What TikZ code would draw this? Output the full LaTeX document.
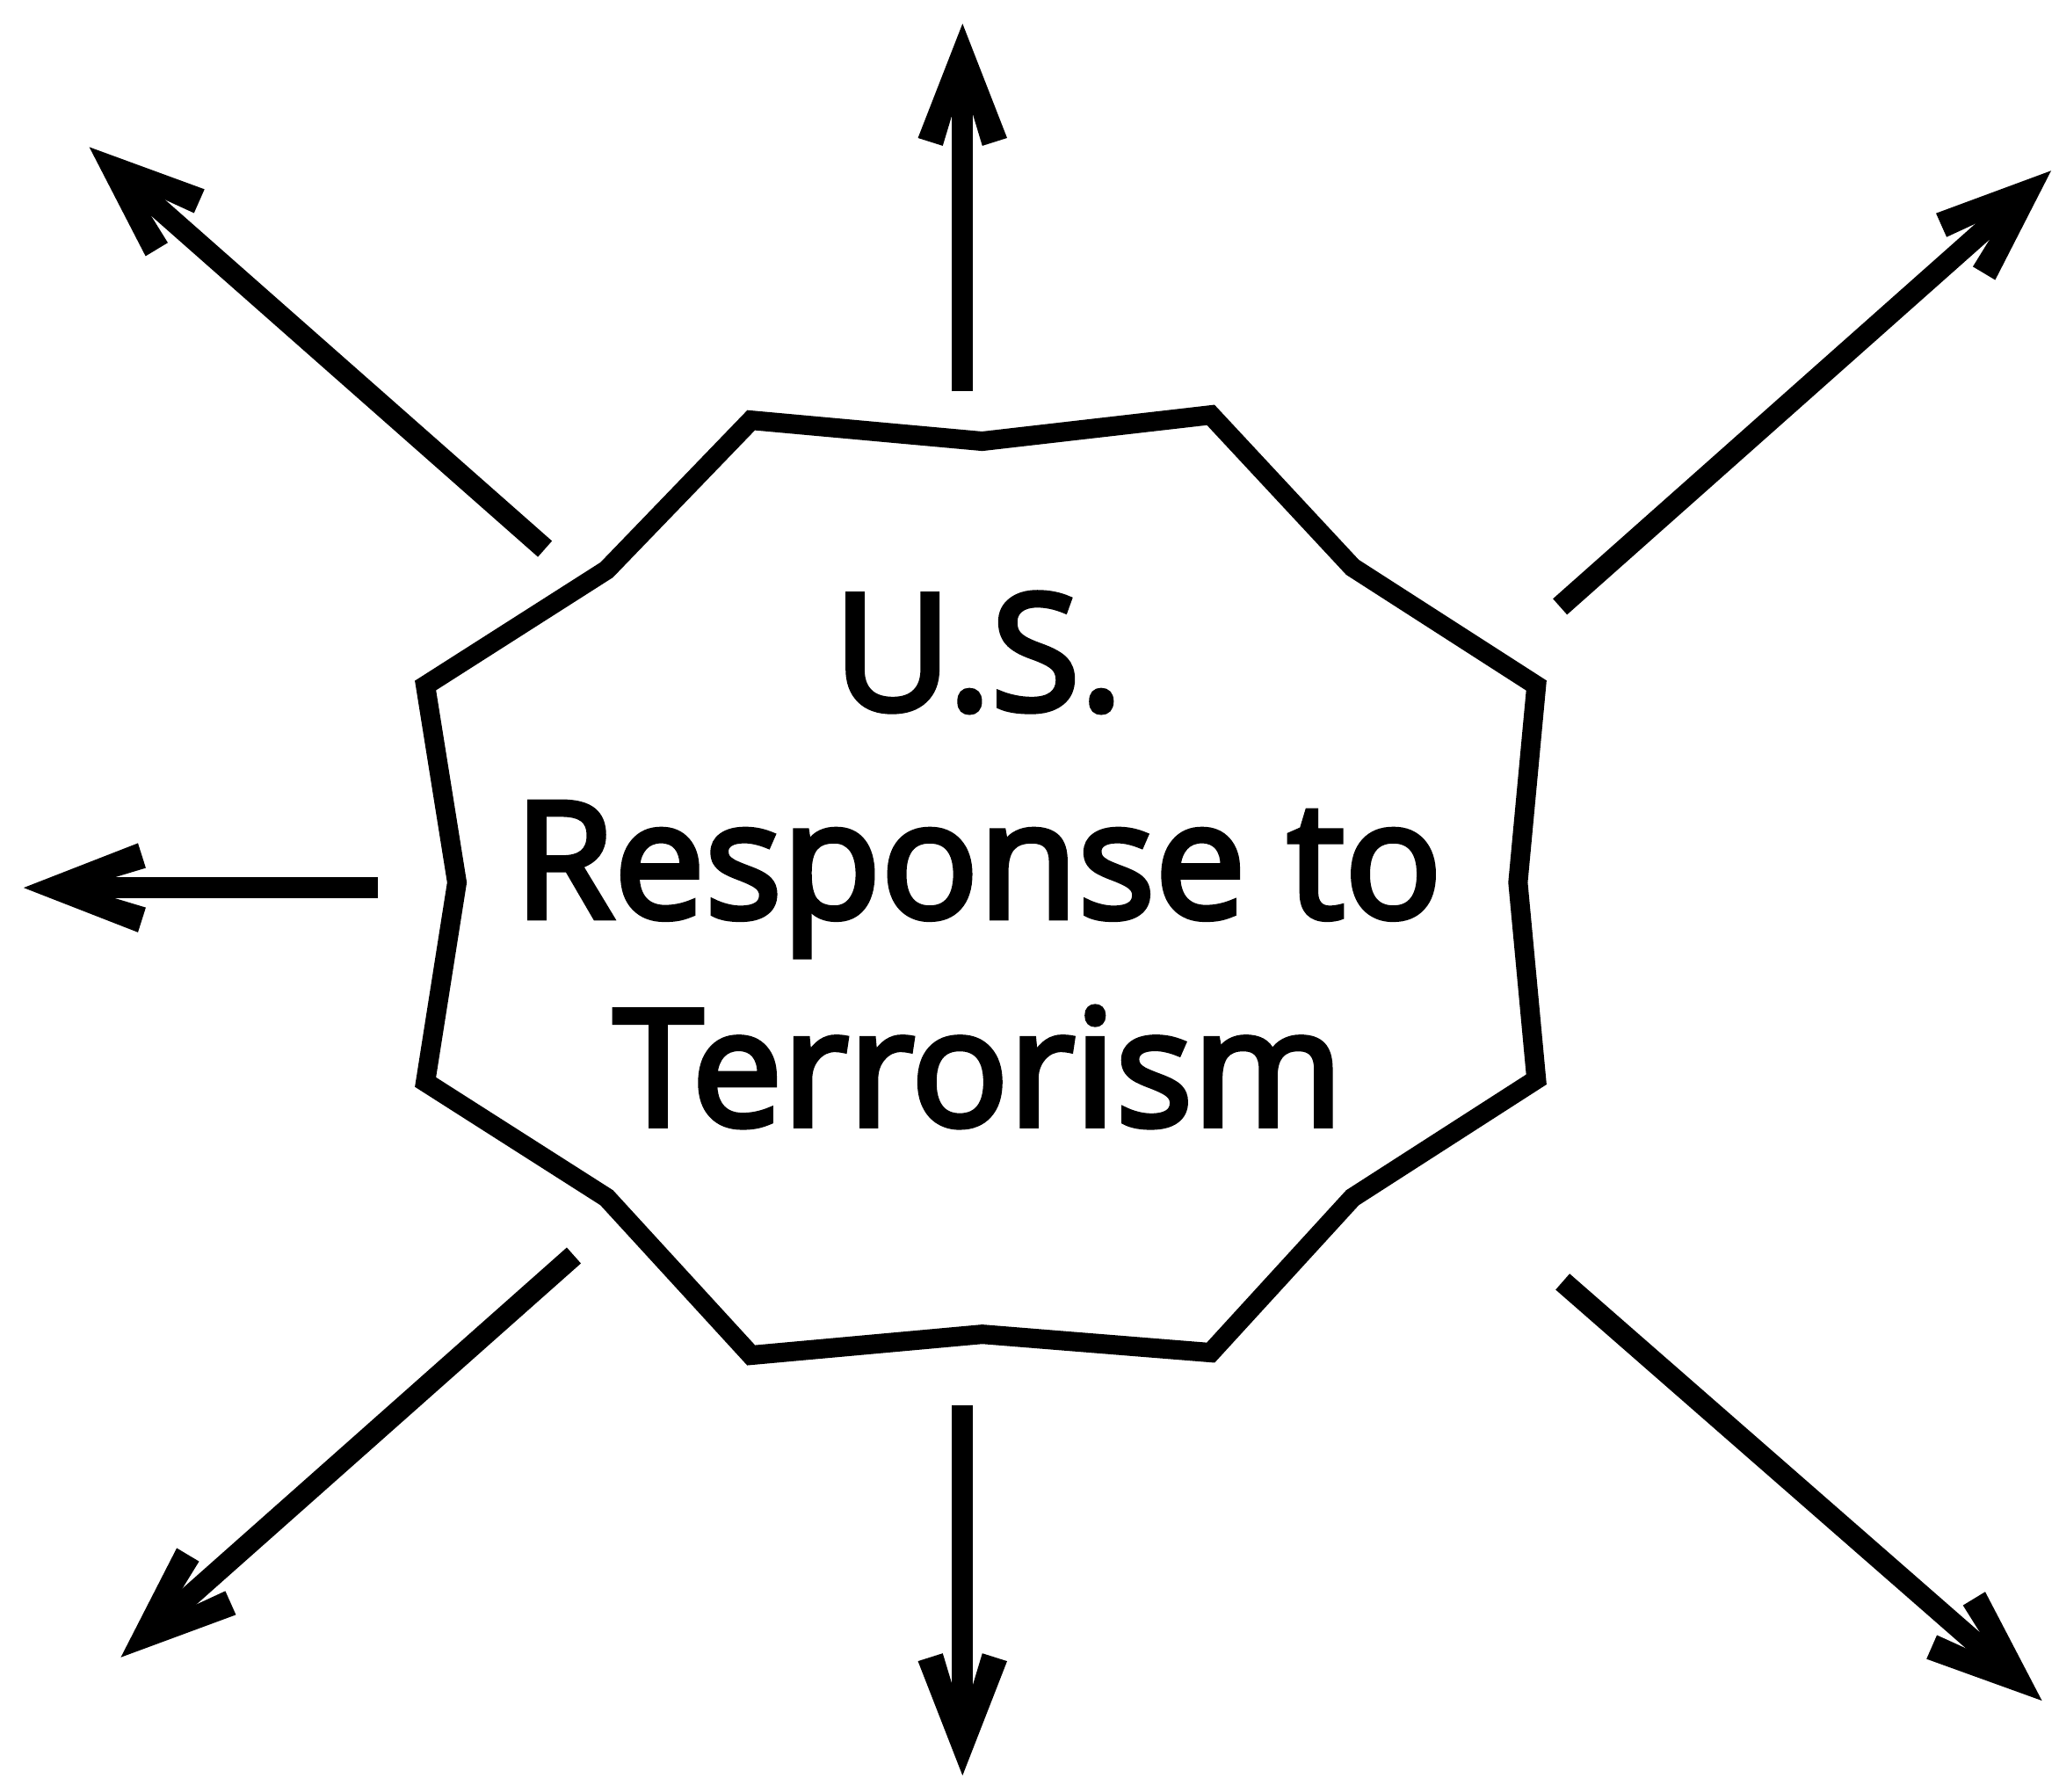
\documentclass[tikz,border=0pt]{standalone}
\usepackage{fontspec}
\newfontfamily\lblfont{Open Sans}[FakeBold=3.5]
\usetikzlibrary{calc}
\tikzset{
  stem/.style={line width=4.6pt, shorten >=0.55cm},
  badge/.style={line width=4.2pt, line join=miter},
  lbl/.style={align=center, font=\lblfont\fontsize{35pt}{45pt}\selectfont, inner sep=0pt}
}
% filled barbed arrowhead at #2, pointing away from #1
\newcommand\barbhead[2]{%
  \fill (#2) -- ($(#2)!0.934cm!21.3:(#1)$) -- ($(#2)!0.942cm!9.2:(#1)$)
    -- ($(#2)!0.664cm!6.0:(#1)$) -- ($(#2)!0.664cm!-6.0:(#1)$)
    -- ($(#2)!0.942cm!-9.2:(#1)$) -- ($(#2)!0.934cm!-21.3:(#1)$) -- cycle;}
\begin{document}
\begin{tikzpicture}[x=0.01cm,y=-0.01cm]
\useasboundingbox (0,0) rectangle (1568,1364);
% badge outline
\draw[badge] (572,320) -- (748,336) -- (922,316) -- (1030,432) -- (1170,522)
  -- (1156,672) -- (1170,822) -- (1030,912) -- (922,1030) -- (748,1016)
  -- (572,1032) -- (462,912) -- (324,824) -- (348,672) -- (324,522)
  -- (462,434) -- cycle;
\node[lbl, anchor=base] (label) at (745,857) {U.S.\\Response to\\Terrorism};
% arrow end points
\coordinate (upS) at (733,298);  \coordinate (upT) at (733,18);
\coordinate (ulS) at (415,418);  \coordinate (ulT) at (68,112);
\coordinate (urS) at (1188,462); \coordinate (urT) at (1562,130);
\coordinate (lS) at (288,676);   \coordinate (lT) at (18,676);
\coordinate (llS) at (437,956);  \coordinate (llT) at (92,1262);
\coordinate (dS) at (733,1070);  \coordinate (dT) at (733,1352);
\coordinate (lrS) at (1190,976); \coordinate (lrT) at (1555,1295);
\foreach \a in {up,ul,ur,l,ll,d,lr}{
  \draw[stem] (\a S) -- (\a T);
  \barbhead{\a S}{\a T}
}
\end{tikzpicture}
\end{document}
